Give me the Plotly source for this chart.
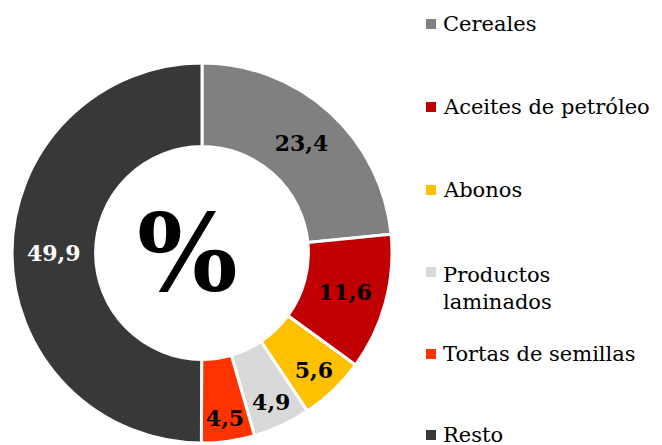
import plotly.graph_objects as go

categories = ["Cereales", "Aceites de petróleo", "Abonos", "Productos laminados", "Tortas de semillas", "Resto"]
legend_labels = ["Cereales", "Aceites de petróleo", "Abonos", "Productos<br>laminados", "Tortas de semillas", "Resto"]
values = [23.4, 11.6, 5.6, 4.9, 4.5, 49.9]
colors = ["#808080", "#C00000", "#FFC000", "#D9D9D9", "#FF3300", "#383838"]
label_colors = ["black", "black", "black", "black", "black", "white"]

W, H = 662, 445
OFF = 8  # page body margin
SERIF = "DejaVu Serif"

def px(x, y):
    """reference window pixel -> paper coords"""
    return (x - OFF) / W, 1 - (y - OFF) / H

dx0, dy_top = px(12, 63)
dx1, dy_bot = px(392, 443)

fig = go.Figure(go.Pie(
    labels=categories,
    values=values,
    sort=False,
    direction="clockwise",
    rotation=0,
    hole=0.56,
    marker=dict(colors=colors, line=dict(color="white", width=3)),
    texttemplate="<b>%{value:.1f}</b>",
    textposition="inside",
    insidetextorientation="horizontal",
    textfont=dict(family=SERIF, size=22, color=label_colors),
    domain=dict(x=[dx0, dx1], y=[dy_bot, dy_top]),
    showlegend=False,
))

annotations = []
shapes = []
legend_y = [24, 107, 190, 288, 354, 435]
square_y = [24, 107, 190, 272, 354, 435]
for lab, col, ty, sy in zip(legend_labels, colors, legend_y, square_y):
    x0, y0 = px(426, sy - 5)
    x1, y1 = px(436, sy + 5)
    shapes.append(dict(type="rect", xref="paper", yref="paper", x0=x0, x1=x1, y0=y1, y1=y0,
                       fillcolor=col, line=dict(width=0)))
    ax, ay = px(441, ty)
    annotations.append(dict(text=lab, x=ax, y=ay, xref="paper", yref="paper",
                            xanchor="left", yanchor="middle", showarrow=False, align="left",
                            font=dict(family=SERIF, size=21, color="black")))

cx, cy = px(187, 252)
annotations.append(dict(text="<b>%</b>", x=cx, y=cy, xref="paper", yref="paper",
                        xanchor="center", yanchor="middle", showarrow=False,
                        font=dict(family=SERIF, size=106, color="black")))
sx, sy_ = px(652, 305)
annotations.append(dict(text="<b>A</b>", x=sx, y=sy_, xref="paper", yref="paper",
                        xanchor="left", yanchor="middle", showarrow=False,
                        font=dict(family="DejaVu Sans", size=22, color="#595959")))

fig.update_layout(
    width=W, height=H,
    margin=dict(l=0, r=0, t=0, b=0),
    paper_bgcolor="white", plot_bgcolor="white",
    separators=",.",
    uniformtext=dict(minsize=22, mode="show"),
    annotations=annotations,
    shapes=shapes,
)

fig.write_html("out.html")
